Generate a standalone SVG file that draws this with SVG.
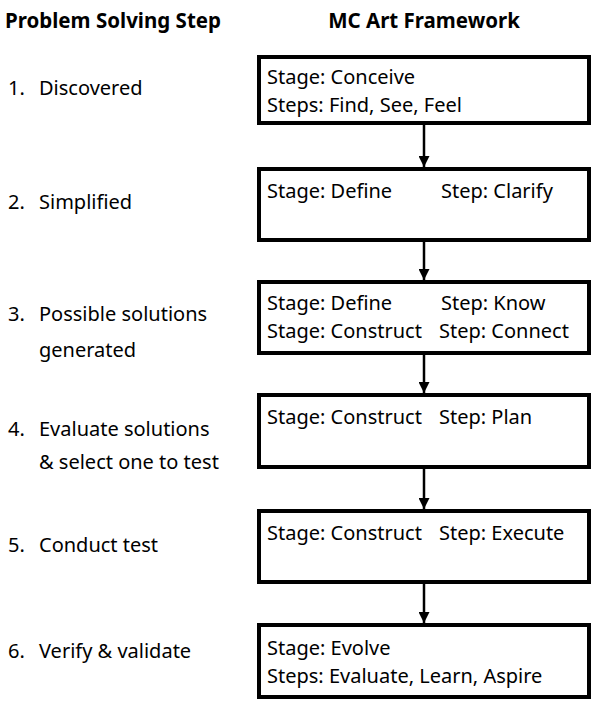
<svg xmlns="http://www.w3.org/2000/svg" width="600" height="708" viewBox="0 0 600 708">
<style>
.hdr{font-family:"Noto Sans","Liberation Sans",sans-serif;font-weight:bold;font-size:20.5px;fill:#000}
.t{font-family:"Noto Sans","Liberation Sans",sans-serif;font-size:20px;fill:#000}
.box{fill:#fff;stroke:#000;stroke-width:4}
.con{stroke:#000;stroke-width:2.5;fill:none}
</style>
<defs>
<marker id="ah" markerWidth="11" markerHeight="11" refX="11" refY="5.5" orient="auto" markerUnits="userSpaceOnUse">
<path d="M0,0 L11,5.5 L0,11 Z" fill="#000"/>
</marker>
</defs>
<rect width="600" height="708" fill="#fff"/>
<text class="hdr" x="5" y="28">Problem Solving Step</text>
<text class="hdr" x="424" y="28" text-anchor="middle">MC Art Framework</text>
<g id="left">
<text class="t" x="8" y="95">1.</text><text class="t" x="39" y="95">Discovered</text>
<text class="t" x="8" y="209">2.</text><text class="t" x="39" y="209">Simplified</text>
<text class="t" x="8" y="321">3.</text><text class="t" x="39" y="321">Possible solutions</text>
<text class="t" x="39" y="357">generated</text>
<text class="t" x="8" y="436">4.</text><text class="t" x="39" y="436">Evaluate solutions</text>
<text class="t" x="39" y="469">&amp; select one to test</text>
<text class="t" x="8" y="552">5.</text><text class="t" x="39" y="552">Conduct test</text>
<text class="t" x="8" y="658">6.</text><text class="t" x="39" y="658">Verify &amp; validate</text>
</g>
<g id="connectors">
<line class="con" x1="424" y1="125" x2="424" y2="167" marker-end="url(#ah)"/>
<line class="con" x1="424" y1="242" x2="424" y2="280" marker-end="url(#ah)"/>
<line class="con" x1="424" y1="355" x2="424" y2="393" marker-end="url(#ah)"/>
<line class="con" x1="424" y1="469" x2="424" y2="509" marker-end="url(#ah)"/>
<line class="con" x1="424" y1="584" x2="424" y2="623" marker-end="url(#ah)"/>
</g>
<g id="n1"><rect class="box" x="259" y="57" width="330" height="66"/>
<text class="t" x="267" y="84">Stage: Conceive</text><text class="t" x="267" y="112">Steps: Find, See, Feel</text></g>
<g id="n2"><rect class="box" x="259" y="169" width="330" height="71"/>
<text class="t" x="267" y="198">Stage: Define</text><text class="t" x="441" y="198">Step: Clarify</text></g>
<g id="n3"><rect class="box" x="259" y="282" width="330" height="71"/>
<text class="t" x="267" y="310">Stage: Define</text><text class="t" x="441" y="310">Step: Know</text>
<text class="t" x="267" y="338">Stage: Construct</text><text class="t" x="439" y="338">Step: Connect</text></g>
<g id="n4"><rect class="box" x="259" y="395" width="330" height="72"/>
<text class="t" x="267" y="424">Stage: Construct</text><text class="t" x="439" y="424">Step: Plan</text></g>
<g id="n5"><rect class="box" x="259" y="511" width="330" height="71"/>
<text class="t" x="267" y="540">Stage: Construct</text><text class="t" x="439" y="540">Step: Execute</text></g>
<g id="n6"><rect class="box" x="259" y="625" width="330" height="72"/>
<text class="t" x="267" y="655">Stage: Evolve</text><text class="t" x="267" y="683">Steps: Evaluate, Learn, Aspire</text></g>
</svg>
